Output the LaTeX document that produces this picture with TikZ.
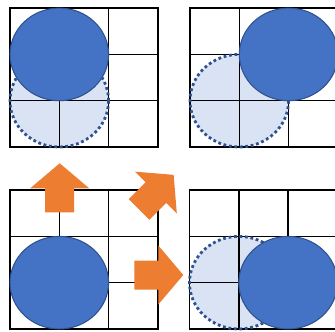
\documentclass[tikz,border=0pt]{standalone}
\usepackage{xcolor}
\definecolor{cDisc}{HTML}{4472C4}
\definecolor{cDiscEdge}{HTML}{2F528F}
\definecolor{cGhost}{HTML}{DAE3F3}
\definecolor{cArrow}{HTML}{ED7D31}
\usetikzlibrary{calc}
\tikzset{
  grid-line/.style={draw=black,line width=1.3pt,line cap=rect},
  disc-solid/.style={fill=cDisc,draw=cDiscEdge,line width=0.9pt},
  disc-ghost/.style={fill=cGhost},
  disc-ghost-edge/.style={draw=cDiscEdge,line width=2.4pt,dash pattern=on 2.4pt off 2.3pt},
  arrow-block/.style={fill=cArrow},
  pics/block-arrow/.style={code={
    \fill[arrow-block] (0,-14.5) -- (24,-14.5) -- (24,-29.5) -- (49,0)
      -- (24,29.5) -- (24,14.5) -- (0,14.5) -- cycle;
  }},
}
\newcommand{\cellw}{49.3}
\newcommand{\cellh}{46.3}

\begin{document}
\begin{tikzpicture}[x=0.03cm,y=0.03cm]
  \useasboundingbox (0,0) rectangle (335,331);
  % lower left corners of the four 3x3 boards
  \coordinate (tl) at (10,184);
  \coordinate (tr) at (190,184);
  \coordinate (bl) at (10,2);
  \coordinate (br) at (189.5,2);

  % previous positions (light)
  \foreach \g in {tl,tr,br}
    \fill[disc-ghost] ($(\g)+(\cellw,\cellh)$) ellipse [x radius=\cellw,y radius=\cellh];

  % boards
  \foreach \g in {tl,tr,bl,br} {
    \foreach \k in {0,1,2,3} {
      \draw[grid-line] ($(\g)+(\k*\cellw,0)$) -- ($(\g)+(\k*\cellw,3*\cellh)$);
      \draw[grid-line] ($(\g)+(0,\k*\cellh)$) -- ($(\g)+(3*\cellw,\k*\cellh)$);
    }
  }
  \foreach \g in {tl,tr,br}
    \draw[disc-ghost-edge] ($(\g)+(\cellw,\cellh)$) ellipse [x radius=\cellw,y radius=\cellh];

  % current positions
  \foreach \g/\i/\j in {tl/1/2,tr/2/2,bl/1/1,br/2/1}
    \draw[disc-solid] ($(\g)+(\i*\cellw,\j*\cellh)$) ellipse [x radius=\cellw,y radius=\cellh];

  % moves
  \pic[rotate=90] at (59.7,118.7) {block-arrow};
  \pic[rotate=45] at (139,121.5) {block-arrow};
  \pic at (134.3,56) {block-arrow};
\end{tikzpicture}
\end{document}
